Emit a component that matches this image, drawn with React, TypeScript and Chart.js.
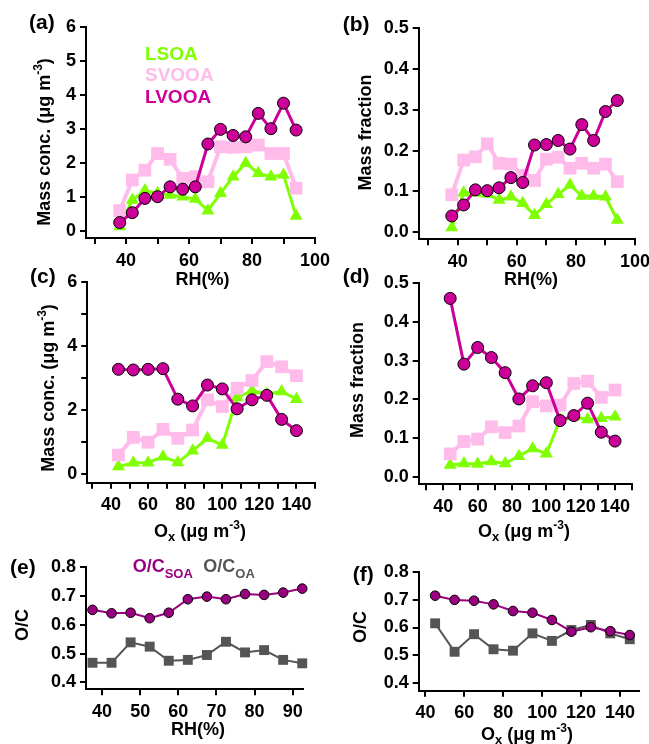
import { useEffect, useRef } from 'react';
import { Chart, registerables } from 'chart.js';

Chart.register(...registerables);

const FONT = "'Liberation Sans', Arial, Helvetica, sans-serif";
const CW = 700;
const CH = 760;
const Y_W = 70;
const X_H = 40;
const TICK_SIZE = 18;

const C_LSOA = '#80ff00';
const C_SVOOA = '#ffbbea';
const C_LVOOA = '#cc0099';
const C_OCSOA = '#990080';
const C_OCOA = '#555555';

// ---- RH bins (panels a, b) ----
const rhBins = [38, 42, 46, 50, 54, 58, 62, 66, 70, 74, 78, 82, 86, 90, 94];
const lsoaConcRH = [0.12, 0.9, 1.18, 1.1, 1.05, 1.0, 0.93, 0.59, 1.1, 1.59, 1.98, 1.69, 1.59, 1.64, 0.43];
const svooaConcRH = [0.59, 1.49, 1.78, 2.27, 2.1, 1.54, 1.59, 1.44, 2.47, 2.45, 2.47, 2.52, 2.27, 2.27, 1.25];
const lvooaConcRH = [0.24, 0.53, 0.95, 1.0, 1.29, 1.22, 1.29, 2.55, 2.98, 2.8, 2.76, 3.45, 3.0, 3.75, 2.96];
const lsoaFracRH = [0.012, 0.097, 0.096, 0.094, 0.079, 0.087, 0.071, 0.042, 0.069, 0.093, 0.116, 0.089, 0.089, 0.087, 0.03];
const svooaFracRH = [0.092, 0.177, 0.185, 0.217, 0.169, 0.167, 0.14, 0.127, 0.179, 0.184, 0.157, 0.169, 0.157, 0.167, 0.124];
const lvooaFracRH = [0.04, 0.067, 0.104, 0.102, 0.109, 0.134, 0.122, 0.214, 0.215, 0.225, 0.204, 0.264, 0.225, 0.296, 0.323];

// ---- Ox bins (panels c, d) ----
const oxBins = [44, 52, 60, 68, 76, 84, 92, 100, 108, 116, 124, 132, 140];
const lsoaConcOx = [0.24, 0.36, 0.36, 0.55, 0.37, 0.73, 1.12, 0.91, 2.4, 2.6, 2.5, 2.58, 2.34];
const svooaConcOx = [0.6, 1.15, 1.0, 1.4, 1.12, 1.38, 2.32, 2.11, 2.68, 2.92, 3.51, 3.35, 3.07];
const lvooaConcOx = [3.27, 3.25, 3.27, 3.29, 2.34, 2.13, 2.78, 2.66, 2.04, 2.32, 2.46, 1.71, 1.36];
const lsoaFracOx = [0.03, 0.034, 0.033, 0.039, 0.034, 0.053, 0.073, 0.059, 0.147, 0.155, 0.148, 0.151, 0.155];
const svooaFracOx = [0.059, 0.091, 0.097, 0.129, 0.114, 0.131, 0.194, 0.183, 0.185, 0.241, 0.247, 0.205, 0.224];
const lvooaFracOx = [0.461, 0.291, 0.334, 0.308, 0.269, 0.201, 0.235, 0.243, 0.145, 0.158, 0.19, 0.115, 0.092];

// ---- O/C (panels e, f) ----
const rhOcBins = [37.5, 42.5, 47.5, 52.5, 57.5, 62.5, 67.5, 72.5, 77.5, 82.5, 87.5, 92.5];
const ocSoaRH = [0.652, 0.64, 0.642, 0.623, 0.642, 0.689, 0.698, 0.689, 0.707, 0.704, 0.712, 0.726];
const ocOaRH = [0.468, 0.468, 0.539, 0.524, 0.475, 0.478, 0.495, 0.541, 0.504, 0.512, 0.478, 0.466];
const oxOcBins = [45, 55, 65, 75, 85, 95, 105, 115, 125, 135, 145];
const ocSoaOx = [0.714, 0.699, 0.696, 0.683, 0.659, 0.653, 0.627, 0.585, 0.601, 0.587, 0.573];
const ocOaOx = [0.615, 0.513, 0.576, 0.522, 0.517, 0.579, 0.552, 0.591, 0.609, 0.579, 0.558];

// ---- axis ticks ----
const rhTicks = [30, 40, 50, 60, 70, 80, 90, 100];
const rhLabels = [40, 60, 80, 100];
const oxTicks = [30, 40, 50, 60, 70, 80, 90, 100, 110, 120, 130, 140, 150];
const oxLabels = [40, 60, 80, 100, 120, 140];
const rhOcTicks = [40, 50, 60, 70, 80, 90];
const oxOcTicks = [40, 60, 80, 100, 120, 140];
const concTicksA = [0, 1, 2, 3, 4, 5, 6];
const concTicksC = [0, 1, 2, 3, 4, 5, 6];
const concLabelsC = [0, 2, 4, 6];
const fracTicks = [0, 0.1, 0.2, 0.3, 0.4, 0.5];
const ocTicks = [0.4, 0.5, 0.6, 0.7, 0.8];

type Seg = { t: string; size: number; dy?: number; color?: string };
type TextItem = { segs: Seg[]; x: number; y: number; color?: string; rotate?: boolean; align?: 'left' | 'center' };
type AxisSpec = { min: number; max: number; ticks: number[]; labels: number[]; decimals: number };
type Area = { left: number; top: number; right: number; bottom: number };
type PanelSpec = { area: Area; x: AxisSpec; y: AxisSpec; datasets: any[]; texts: TextItem[] };

const pts = (xs: number[], ys: number[]) => xs.map((x, i) => ({ x, y: ys[i] }));

function lsoaSet(xs: number[], ys: number[]) {
  return {
    label: 'LSOA', data: pts(xs, ys), borderColor: C_LSOA, backgroundColor: C_LSOA, borderWidth: 3,
    pointStyle: 'triangle', pointRadius: 7.5, pointBackgroundColor: C_LSOA, pointBorderColor: C_LSOA,
    pointBorderWidth: 0, tension: 0, fill: false, clip: false, order: 3,
  };
}
function svooaSet(xs: number[], ys: number[]) {
  return {
    label: 'SVOOA', data: pts(xs, ys), borderColor: C_SVOOA, backgroundColor: C_SVOOA, borderWidth: 4,
    pointStyle: 'rect', pointRadius: 9, pointBackgroundColor: C_SVOOA, pointBorderColor: C_SVOOA,
    pointBorderWidth: 0, tension: 0, fill: false, clip: false, order: 2,
  };
}
function lvooaSet(xs: number[], ys: number[]) {
  return {
    label: 'LVOOA', data: pts(xs, ys), borderColor: C_LVOOA, backgroundColor: C_LVOOA, borderWidth: 3,
    pointStyle: 'circle', pointRadius: 6, pointBackgroundColor: C_LVOOA, pointBorderColor: '#000',
    pointBorderWidth: 1, tension: 0, fill: false, clip: false, order: 1,
  };
}
function ocSoaSet(xs: number[], ys: number[]) {
  return {
    label: 'O/C SOA', data: pts(xs, ys), borderColor: C_OCSOA, backgroundColor: C_OCSOA, borderWidth: 2,
    pointStyle: 'circle', pointRadius: 4.8, pointBackgroundColor: C_OCSOA, pointBorderColor: '#000',
    pointBorderWidth: 1, tension: 0, fill: false, clip: false, order: 1,
  };
}
function ocOaSet(xs: number[], ys: number[]) {
  return {
    label: 'O/C OA', data: pts(xs, ys), borderColor: C_OCOA, backgroundColor: C_OCOA, borderWidth: 2,
    pointStyle: 'rect', pointRadius: 7, pointBackgroundColor: C_OCOA, pointBorderColor: C_OCOA,
    pointBorderWidth: 0, tension: 0, fill: false, clip: false, order: 2,
  };
}

const T = 18; // axis title size
const P = 21; // panel tag size

const massConcTitle = (x: number, y: number): TextItem => ({
  x, y, rotate: true, align: 'center', color: '#000',
  segs: [{ t: 'Mass conc. (μg m', size: 18 }, { t: '-3', size: 12, dy: -8 }, { t: ')', size: 18 }],
});
const plainTitle = (t: string, x: number, y: number, rotate = false): TextItem => ({
  x, y, rotate, align: 'center', color: '#000', segs: [{ t, size: T }],
});
const oxTitle = (x: number, y: number): TextItem => ({
  x, y, align: 'center', color: '#000',
  segs: [{ t: 'O', size: T }, { t: 'x', size: 13, dy: 4 }, { t: ' (μg m', size: T }, { t: '-3', size: 12, dy: -8 }, { t: ')', size: T }],
});
const tag = (t: string, x: number, y: number): TextItem => ({ x, y, align: 'left', color: '#000', segs: [{ t, size: P }] });

const PANELS: PanelSpec[] = [
  {
    area: { left: 86, top: 26.7, right: 315, bottom: 238 },
    x: { min: 27.3, max: 100, ticks: rhTicks, labels: rhLabels, decimals: 0 },
    y: { min: -0.215, max: 6, ticks: concTicksA, labels: concTicksA, decimals: 0 },
    datasets: [lvooaSet(rhBins, lvooaConcRH), svooaSet(rhBins, svooaConcRH), lsoaSet(rhBins, lsoaConcRH)],
    texts: [
      tag('(a)', 29, 29),
      massConcTitle(49.5, 142),
      plainTitle('RH(%)', 202.5, 285),
      { x: 145, y: 59.5, align: 'left', color: C_LSOA, segs: [{ t: 'LSOA', size: 19 }] },
      { x: 145, y: 80.5, align: 'left', color: C_SVOOA, segs: [{ t: 'SVOOA', size: 19 }] },
      { x: 145, y: 103, align: 'left', color: C_LVOOA, segs: [{ t: 'LVOOA', size: 19 }] },
    ],
  },
  {
    area: { left: 418.7, top: 28.3, right: 635, bottom: 239.3 },
    x: { min: 26.8, max: 100, ticks: rhTicks, labels: rhLabels, decimals: 0 },
    y: { min: -0.0172, max: 0.5, ticks: fracTicks, labels: fracTicks, decimals: 1 },
    datasets: [lvooaSet(rhBins, lvooaFracRH), svooaSet(rhBins, svooaFracRH), lsoaSet(rhBins, lsoaFracRH)],
    texts: [
      tag('(b)', 342.7, 30.6),
      plainTitle('Mass fraction', 371, 132.5, true),
      plainTitle('RH(%)', 531, 285),
    ],
  },
  {
    area: { left: 87.3, top: 281.7, right: 315, bottom: 482.7 },
    x: { min: 27.2, max: 150, ticks: oxTicks, labels: oxLabels, decimals: 0 },
    y: { min: -0.262, max: 6, ticks: concTicksC, labels: concLabelsC, decimals: 0 },
    datasets: [lvooaSet(oxBins, lvooaConcOx), svooaSet(oxBins, svooaConcOx), lsoaSet(oxBins, lsoaConcOx)],
    texts: [
      tag('(c)', 30, 283),
      massConcTitle(54, 388),
      oxTitle(200, 536.5),
    ],
  },
  {
    area: { left: 418.7, top: 283.3, right: 631.7, bottom: 484.3 },
    x: { min: 25.67, max: 149.7, ticks: oxTicks, labels: oxLabels, decimals: 0 },
    y: { min: -0.0197, max: 0.5, ticks: fracTicks, labels: fracTicks, decimals: 1 },
    datasets: [lvooaSet(oxBins, lvooaFracOx), svooaSet(oxBins, svooaFracOx), lsoaSet(oxBins, lsoaFracOx)],
    texts: [
      tag('(d)', 342.7, 283),
      plainTitle('Mass fraction', 363, 380, true),
      oxTitle(524, 536.7),
    ],
  },
  {
    area: { left: 86, top: 567.3, right: 303, bottom: 689.3 },
    x: { min: 35.8, max: 92.7, ticks: rhOcTicks, labels: rhOcTicks, decimals: 0 },
    y: { min: 0.3757, max: 0.8, ticks: ocTicks, labels: ocTicks, decimals: 1 },
    datasets: [ocSoaSet(rhOcBins, ocSoaRH), ocOaSet(rhOcBins, ocOaRH)],
    texts: [
      tag('(e)', 10, 574),
      plainTitle('O/C', 28, 625, true),
      plainTitle('RH(%)', 198, 735),
      { x: 132.7, y: 572, align: 'left', color: C_OCSOA, segs: [{ t: 'O/C', size: 18 }, { t: 'SOA', size: 13, dy: 5.5 }] },
      { x: 203.3, y: 572, align: 'left', color: C_OCOA, segs: [{ t: 'O/C', size: 18 }, { t: 'OA', size: 13, dy: 5.5 }] },
    ],
  },
  {
    area: { left: 418.7, top: 571.7, right: 639.3, bottom: 690.7 },
    x: { min: 36.56, max: 149.9, ticks: oxOcTicks, labels: oxOcTicks, decimals: 0 },
    y: { min: 0.3735, max: 0.8, ticks: ocTicks, labels: ocTicks, decimals: 1 },
    datasets: [ocSoaSet(oxOcBins, ocSoaOx), ocOaSet(oxOcBins, ocOaOx)],
    texts: [
      tag('(f)', 352.7, 581),
      plainTitle('O/C', 366, 627, true),
      oxTitle(527, 739.5),
    ],
  },
];

function drawRich(ctx: CanvasRenderingContext2D, it: TextItem) {
  ctx.save();
  ctx.translate(it.x, it.y);
  if (it.rotate) ctx.rotate(-Math.PI / 2);
  ctx.textBaseline = 'alphabetic';
  ctx.textAlign = 'left';
  let total = 0;
  const widths = it.segs.map((s) => {
    ctx.font = `bold ${s.size}px ${FONT}`;
    const w = ctx.measureText(s.t).width;
    total += w;
    return w;
  });
  let x = it.align === 'center' ? -total / 2 : 0;
  it.segs.forEach((s, i) => {
    ctx.font = `bold ${s.size}px ${FONT}`;
    ctx.fillStyle = s.color || it.color || '#000';
    ctx.fillText(s.t, x, s.dy || 0);
    x += widths[i];
  });
  ctx.restore();
}

function axisOpts(which: 'x' | 'y', spec: AxisSpec) {
  return {
    type: 'linear',
    position: which === 'x' ? 'bottom' : 'left',
    min: spec.min,
    max: spec.max,
    afterFit: (s: any) => {
      if (which === 'x') s.height = X_H;
      else s.width = Y_W;
    },
    afterBuildTicks: (s: any) => {
      s.ticks = spec.ticks.map((v) => ({ value: v }));
    },
    grid: { display: true, drawOnChartArea: false, drawTicks: true, tickLength: 6, lineWidth: 2, color: '#000' },
    border: { display: true, width: 2, color: '#000' },
    ticks: {
      autoSkip: false,
      maxRotation: 0,
      minRotation: 0,
      padding: which === 'x' ? 6 : 4,
      color: '#000',
      font: { family: FONT, size: TICK_SIZE, weight: 'bold' },
      callback: (v: any) => {
        const n = Number(v);
        return spec.labels.some((l) => Math.abs(l - n) < 1e-9) ? n.toFixed(spec.decimals) : '';
      },
    },
  };
}

function makeConfig(p: PanelSpec): any {
  const textPlugin = {
    id: 'panelText',
    afterDraw(chart: any) {
      p.texts.forEach((it) => drawRich(chart.ctx, it));
    },
  };
  return {
    type: 'line',
    data: { datasets: p.datasets },
    options: {
      responsive: false,
      animation: false,
      events: [],
      layout: {
        padding: {
          left: p.area.left - Y_W,
          top: p.area.top,
          right: CW - p.area.right,
          bottom: CH - p.area.bottom - X_H,
        },
      },
      plugins: { legend: { display: false }, tooltip: { enabled: false }, title: { display: false } },
      scales: { x: axisOpts('x', p.x), y: axisOpts('y', p.y) },
    },
    plugins: [textPlugin],
  };
}

function Panel({ spec }: { spec: PanelSpec }) {
  const ref = useRef<HTMLCanvasElement>(null);
  useEffect(() => {
    if (!ref.current) return;
    const chart = new Chart(ref.current, makeConfig(spec));
    return () => chart.destroy();
  }, [spec]);
  return (
    <canvas
      ref={ref}
      width={CW}
      height={CH}
      style={{ position: 'absolute', left: 0, top: 0, width: CW, height: CH }}
    />
  );
}

export default function App() {
  return (
    <div
      style={{
        position: 'absolute', left: 0, top: 0, width: 649, height: 744,
        overflow: 'hidden', background: '#fff',
      }}
    >
      {PANELS.map((p, i) => (
        <Panel key={i} spec={p} />
      ))}
    </div>
  );
}
